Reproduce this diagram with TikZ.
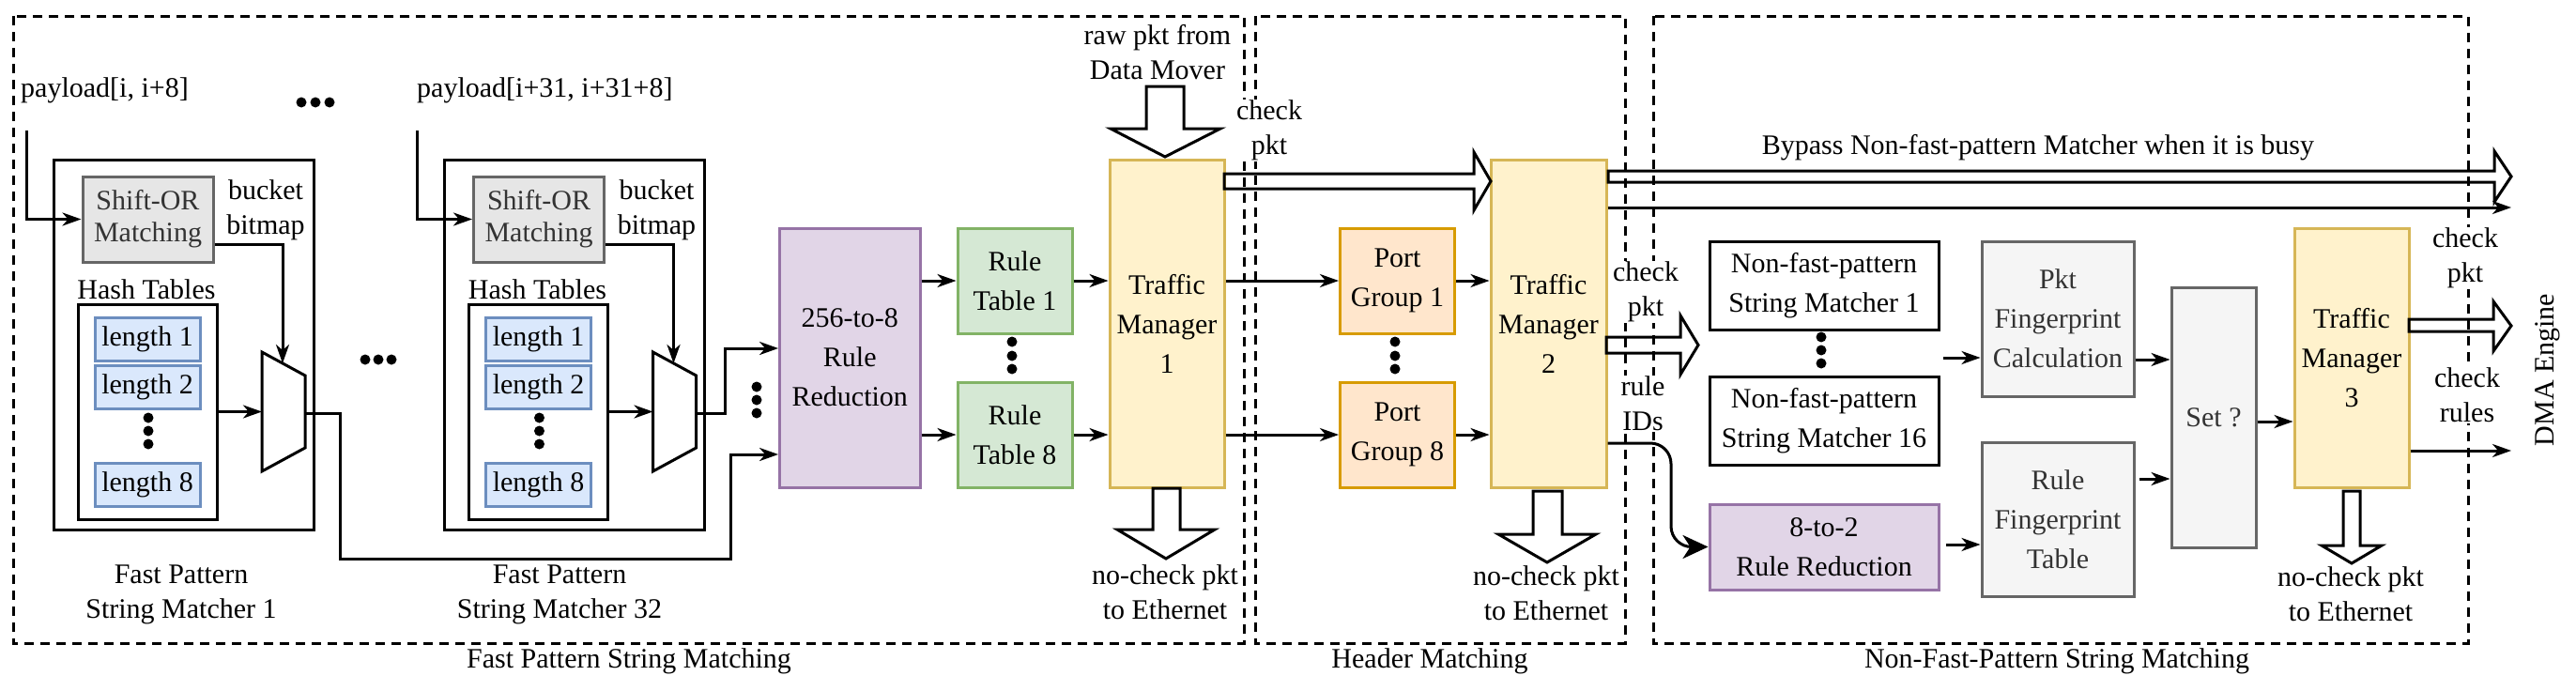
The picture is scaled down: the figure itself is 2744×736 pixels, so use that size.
\documentclass[tikz,border=0pt]{standalone}
\usepackage{fontspec}
\setmainfont{Liberation Serif}
\usetikzlibrary{arrows.meta}
\definecolor{ylwF}{HTML}{FFF2CC}\definecolor{ylwD}{HTML}{D6B656}
\definecolor{grnF}{HTML}{D5E8D4}\definecolor{grnD}{HTML}{82B366}
\definecolor{prpF}{HTML}{E1D5E7}\definecolor{prpD}{HTML}{9673A6}
\definecolor{orgF}{HTML}{FFE6CC}\definecolor{orgD}{HTML}{D79B00}
\definecolor{bluF}{HTML}{DAE8FC}\definecolor{bluD}{HTML}{6C8EBF}
\definecolor{gryF}{HTML}{F5F5F5}\definecolor{gryD}{HTML}{666666}
\definecolor{gryT}{HTML}{333333}\definecolor{sorF}{HTML}{E6E6E6}
\newcommand\myBoxFont{\fontsize{30}{42}\selectfont}
\newcommand\myLblFont{\fontsize{30}{37}\selectfont}
\begin{document}
\begin{tikzpicture}[x=1pt,y=-1pt,
  box/.style={draw, line width=3pt, inner sep=0pt, align=center, font=\myBoxFont},
  conn/.style={line width=3pt, -{Stealth[length=20pt,width=14pt,inset=6pt]}},
  bigconn/.style={line width=3pt, rounded corners=22pt, -{Stealth[length=27pt,width=25pt,inset=8pt]}},
  wire/.style={line width=3pt},
  hollow/.style={line width=3pt, line join=miter},
  region/.style={line width=3pt, dash pattern=on 10pt off 7pt},
  lbl/.style={font=\myLblFont, align=center, inner sep=1pt},
  wlbl/.style={lbl, fill=white},
  dotc/.style={fill=black},
]
\useasboundingbox (0,0) rectangle (2744,736);

% ---------- fast pattern string matchers ----------
\foreach \i/\dx in {1/0,32/416.5}{
  \node[box, minimum width=277pt, minimum height=394pt] (m\i) at (195.5+\dx,367) {};
  \node[box, fill=sorF, draw=gryD, text=gryT, minimum width=139pt, minimum height=91pt,
        font=\fontsize{30}{34}\selectfont] (so\i) at (157.5+\dx,233.5) {Shift-OR\\Matching};
  \node[lbl] (bb\i) at (283+\dx,224) {bucket\\bitmap};
  \node[lbl] (ht\i) at (156+\dx,308) {Hash Tables};
  \node[box, minimum width=148pt, minimum height=229pt] (hb\i) at (157+\dx,438.5) {};
  \node[box, fill=bluF, draw=bluD, minimum width=112pt, minimum height=46pt] (la\i) at (157+\dx,361) {length 1};
  \node[box, fill=bluF, draw=bluD, minimum width=112pt, minimum height=46pt] (lb\i) at (157+\dx,412.5) {length 2};
  \node[box, fill=bluF, draw=bluD, minimum width=112pt, minimum height=46pt] (lc\i) at (157+\dx,516) {length 8};
  \foreach \yy in {445,459,473} \fill[dotc] (158+\dx,\yy) circle[radius=5.5pt];
  \draw[wire, fill=white] (279+\dx,375) -- (325+\dx,400) -- (325+\dx,477) -- (279+\dx,502) -- cycle;
  \coordinate (mw\i) at (279+\dx,438.5);
  \coordinate (mt\i) at (301+\dx,387);
  \coordinate (me\i) at (325+\dx,440);
  \coordinate (pin\i) at (28+\dx,139);
  \draw[conn] (pin\i) |- (so\i.west);
  \draw[conn] ([yshift=-26.5pt]so\i.east) -| (mt\i);
  \draw[conn] (hb\i.east) -- (mw\i);
}
\node[lbl, anchor=west] (pl1) at (21,96) {payload[i, i+8]};
\node[lbl, anchor=west] (pl32) at (443,96) {payload[i+31, i+31+8]};
\foreach \xx in {321,336,351} \fill[dotc] (\xx,109) circle[radius=5.5pt];
\foreach \xx in {389,403,417} \fill[dotc] (\xx,383) circle[radius=5.5pt];
\node[lbl] (fpl1) at (193,633.5) {Fast Pattern\\String Matcher 1};
\node[lbl] (fpl32) at (596,633.5) {Fast Pattern\\String Matcher 32};

% ---------- main boxes ----------
\node[box, fill=prpF, draw=prpD, minimum width=149.4pt, minimum height=276pt] (RR) at (905.3,381) {256-to-8\\Rule\\Reduction};
\node[box, fill=grnF, draw=grnD, minimum width=122pt, minimum height=112pt] (RT1) at (1081,299) {Rule\\Table 1};
\node[box, fill=grnF, draw=grnD, minimum width=122pt, minimum height=112pt] (RT8) at (1081,463) {Rule\\Table 8};
\node[box, fill=ylwF, draw=ylwD, minimum width=122pt, minimum height=349pt] (TM1) at (1243,344.5) {Traffic\\Manager\\1};
\node[box, fill=orgF, draw=orgD, minimum width=122pt, minimum height=112pt] (PG1) at (1488.5,299) {Port\\Group 1};
\node[box, fill=orgF, draw=orgD, minimum width=122pt, minimum height=112pt] (PG8) at (1488.5,463) {Port\\Group 8};
\node[box, fill=ylwF, draw=ylwD, minimum width=123pt, minimum height=349pt] (TM2) at (1649.5,344.5) {Traffic\\Manager\\2};
\node[box, minimum width=244pt, minimum height=94pt] (NF1) at (1943,304) {Non-fast-pattern\\String Matcher 1};
\node[box, minimum width=244pt, minimum height=94pt] (NF16) at (1943,448) {Non-fast-pattern\\String Matcher 16};
\node[box, fill=prpF, draw=prpD, minimum width=244pt, minimum height=91pt] (RR2) at (1943,582.5) {8-to-2\\Rule Reduction};
\node[box, fill=gryF, draw=gryD, text=gryT, minimum width=162pt, minimum height=165pt] (PFC) at (2192,339.5) {Pkt\\Fingerprint\\Calculation};
\node[box, fill=gryF, draw=gryD, text=gryT, minimum width=162pt, minimum height=164pt] (RFT) at (2192,553) {Rule\\Fingerprint\\Table};
\node[box, fill=gryF, draw=gryD, text=gryT, minimum width=90pt, minimum height=277pt] (SET) at (2358,444.5) {Set ?};
\node[box, fill=ylwF, draw=ylwD, minimum width=122pt, minimum height=276pt] (TM3) at (2505,381) {Traffic\\Manager\\3};

\foreach \yy in {412,426,440} \fill[dotc] (806,\yy) circle[radius=5.5pt];
\foreach \yy in {364,379,393} \fill[dotc] (1078,\yy) circle[radius=5.5pt];
\foreach \yy in {364,379,393} \fill[dotc] (1486,\yy) circle[radius=5.5pt];
\foreach \yy in {359,373,387} \fill[dotc] (1940,\yy) circle[radius=5.5pt];

% ---------- connectors ----------
\draw[conn] (me1) -- (362,440) |- (778,595) |- (RR.west |- 0,484);
\draw[conn] (me32) -- (772,440) |- (RR.west |- 0,371);
\draw[conn] (RR.east |- RT1) -- (RT1.west);
\draw[conn] (RR.east |- RT8) -- (RT8.west);
\draw[conn] (RT1.east) -- (RT1.east -| TM1.west);
\draw[conn] (RT8.east) -- (RT8.east -| TM1.west);
\draw[conn] (TM1.east |- PG1) -- (PG1.west);
\draw[conn] (TM1.east |- PG8) -- (PG8.west);
\draw[conn] (PG1.east) -- (PG1.east -| TM2.west);
\draw[conn] (PG8.east) -- (PG8.east -| TM2.west);
\coordinate (bpend) at (2675,221);
\draw[conn] (TM2.east |- bpend) -- (bpend);
\draw[bigconn] (TM2.east |- 0,472) -- (1780,472) -- (1780,582.5) -- (RR2.west);
\coordinate (nfo) at (2070,381);
\draw[conn] (nfo) -- (nfo -| PFC.west);
\coordinate (r2o) at (2073,580);
\draw[conn] (r2o) -- (r2o -| RFT.west);
\draw[conn] (PFC.east |- 0,383) -- (SET.west |- 0,383);
\draw[conn] ([xshift=4pt]RFT.east |- 0,510) -- (SET.west |- 0,510);
\draw[conn] (SET.east |- 0,449) -- (TM3.west |- 0,449);
\coordinate (crend) at (2675,480);
\draw[conn] (TM3.east |- crend) -- (crend);

% ---------- regions ----------
\draw[region] (14,17) rectangle (1325,685);
\draw[region] (1337,17) rectangle (1731,685);
\draw[region] (1761,17) rectangle (2629,685);

% ---------- labels ----------
\node[lbl] (rawl) at (1233,56) {raw pkt from\\Data Mover};
\node[wlbl] (ck1) at (1352,139) {check\\pkt};
\node[wlbl] (ck2) at (1753,311) {check\\pkt};
\node[wlbl] (rid) at (1750,430) {rule\\IDs};
\node[wlbl] (ck3) at (2626,275) {check\\pkt};
\node[wlbl] (ckr) at (2628,421) {check\\rules};
\node[lbl] (nc1) at (1241,631) {no-check pkt\\to Ethernet};
\node[lbl] (nc2) at (1647,632) {no-check pkt\\to Ethernet};
\node[lbl] (nc3) at (2504,633) {no-check pkt\\to Ethernet};
\node[lbl] (bpl) at (2171,157) {Bypass Non-fast-pattern Matcher when it is busy};
\node[lbl, rotate=90] (dma) at (2714,394) {DMA Engine};
\node[lbl] (s1) at (670,704) {Fast Pattern String Matching};
\node[lbl] (s2) at (1523,704) {Header Matching};
\node[lbl] (s3) at (2191,704) {Non-Fast-Pattern String Matching};

% ---------- hollow (block) arrows ----------
\draw[hollow] (1221,92) -- (1261,92) -- (1261,137) -- (1300,137) -- (1241,167) -- (1183,137) -- (1221,137) -- cycle;
\draw[hollow] (1228,520) -- (1257,520) -- (1257,564) -- (1294,564) -- (1242,595) -- (1190,564) -- (1228,564) -- cycle;
\draw[hollow] (1633,523) -- (1664,523) -- (1664,569) -- (1700,569) -- (1648,599) -- (1596,569) -- (1633,569) -- cycle;
\draw[hollow] (2496,523) -- (2514,523) -- (2514,581) -- (2537,581) -- (2505,600) -- (2473,581) -- (2496,581) -- cycle;
\draw[hollow] (1304,185) -- (1570,185) -- (1570,162) -- (1588,193) -- (1570,224) -- (1570,201) -- (1304,201) -- cycle;
\draw[hollow] (1713,182) -- (2657,182) -- (2657,161) -- (2675,188) -- (2657,215) -- (2657,194) -- (1713,194) -- cycle;
\draw[hollow] (1711,359) -- (1790,359) -- (1790,336) -- (1809,367.5) -- (1790,399) -- (1790,376) -- (1711,376) -- cycle;
\draw[hollow] (2566,340) -- (2656,340) -- (2656,321) -- (2675,347) -- (2656,374) -- (2656,353) -- (2566,353) -- cycle;
\end{tikzpicture}
\end{document}
